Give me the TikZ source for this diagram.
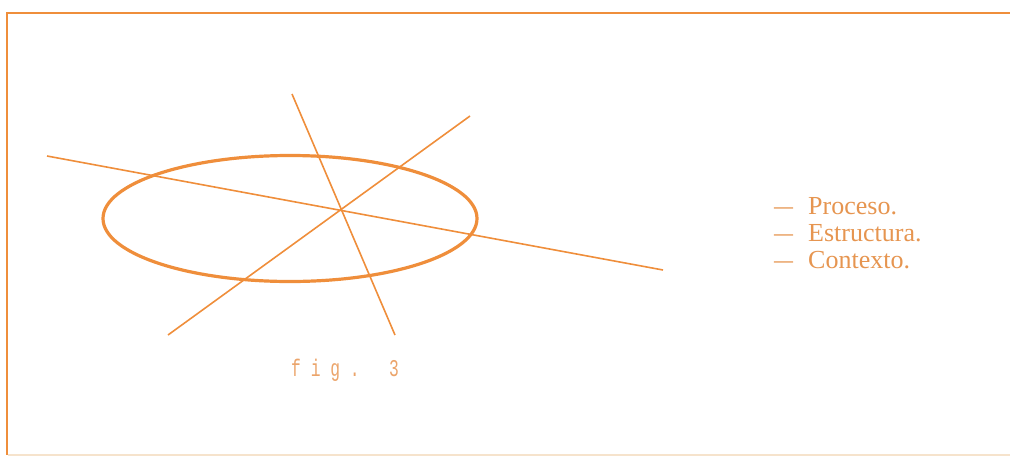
\documentclass[tikz,border=0pt]{standalone}
\usepackage{fontspec}
\setmainfont{Liberation Serif}
\newfontfamily\figfont[FakeStretch=0.68]{Liberation Mono}
\definecolor{lineorange}{HTML}{EF8E3B}
\definecolor{textorange}{HTML}{E69550}
\definecolor{figorange}{HTML}{EBA46A}
\definecolor{faintorange}{HTML}{F6E3CC}
\newcommand{\legenddash}{\makebox[34pt][l]{\scalebox{0.73}[1]{---}}}
\tikzset{
  frameline/.style={draw=lineorange,line width=2.2pt},
  ring/.style={draw=lineorange,line width=3.2pt},
  axisline/.style={draw=lineorange,line width=1.6pt},
  legend/.style={anchor=base west,inner sep=0pt,text=textorange,font=\fontsize{26}{28}\selectfont}
}
\begin{document}
\begin{tikzpicture}[x=1pt,y=-1pt]
  \useasboundingbox (0,0) rectangle (1010,461);
  % frame
  \draw[frameline] (1010,13) -- (7,13) -- (7,455);
  \draw[draw=faintorange,line width=2pt] (8,455) -- (1010,455);

  % ellipse
  \draw[ring] (290,218.5) ellipse [x radius=187, y radius=63];

  % three crossing lines
  \coordinate (long west) at (47,156);
  \coordinate (long east) at (663,270);
  \coordinate (steep top) at (292,94);
  \coordinate (steep bottom) at (395,335);
  \coordinate (rise low) at (168,335);
  \coordinate (rise high) at (470,116);
  \draw[axisline] (long west) -- (long east);
  \draw[axisline] (steep top) -- (steep bottom);
  \draw[axisline] (rise low) -- (rise high);

  % caption
  \node[anchor=base west,inner sep=0pt,text=figorange,font=\figfont\fontsize{24}{26}\selectfont]
    (caption) at (291,376) {f~i~g~.~~~3};

  % legend
  \node[legend] (proceso) at (774,214) {\legenddash Proceso.};
  \node[legend] (estructura) at (774,241) {\legenddash Estructura.};
  \node[legend] (contexto) at (774,268) {\legenddash Contexto.};
\end{tikzpicture}
\end{document}
